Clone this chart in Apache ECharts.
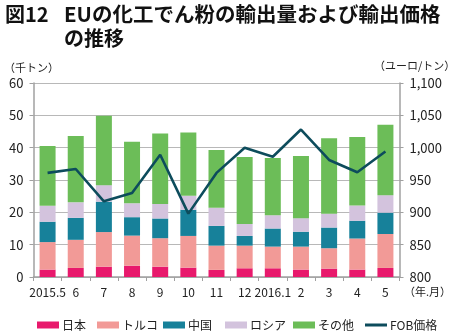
<!DOCTYPE html>
<html><head><meta charset="utf-8">
<script src="https://cdn.jsdelivr.net/npm/echarts@6/dist/echarts.min.js"></script>
<style>html,body{margin:0;padding:0;background:#fff}#c{width:449px;height:333px}</style>
</head><body><div id="c"></div>
<script>
const categories = ['2015.5','6','7','8','9','10','11','12','2016.1','2','3','4','5'];
const japan  = [2.3,2.8,3.2,3.5,3.2,2.9,2.2,2.7,2.7,2.3,2.6,2.3,2.8];
const turkey = [8.5,8.7,10.7,9.3,8.8,9.8,7.5,7.0,6.7,7.1,6.3,9.6,10.5];
const china  = [6.3,6.8,9.4,5.7,6.1,8.1,6.1,3.0,5.6,4.6,6.4,5.5,6.6];
const russia = [4.9,4.8,5.1,4.3,4.5,4.3,5.6,3.7,4.1,4.2,4.3,4.7,5.4];
const others = [18.5,20.5,21.5,19.0,21.8,19.6,17.9,20.7,17.7,19.2,23.3,21.2,21.8];
const fob    = [961,967,917,930,989,898,961,1000,986,1028,981,962,994];
const leftTicks = [0,10,20,30,40,50,60];
const rightTicks = [800,850,900,950,1000,1050,1100];

const FONT = '"Noto Sans CJK JP", "Noto Sans", sans-serif';
const colors = {japan:'#e8196c', turkey:'#f29a97', china:'#17819a', russia:'#d3c3dd', others:'#6cbd58', fob:'#0d4c5c'};

function bar(name, data, color){
  return {name, type:'bar', stack:'t', data, barWidth:16, itemStyle:{color}, emphasis:{disabled:true}};
}
function lg(name, left, extra){
  return Object.assign({data:[name], left, top:314, itemWidth:22, itemHeight:7, icon:'rect', itemGap:0,
    textStyle:{fontFamily:FONT, fontSize:12, color:'#222', padding:[0,0,0,-2]}}, extra||{});
}
const chart = echarts.init(document.getElementById('c'), null, {renderer:'canvas'});
chart.setOption({
  animation:false,
  grid:{left:33.5, right:49.5, top:83, bottom:56, containLabel:false},
  graphic:[
    {type:'text', left:5, top:4, style:{text:'図12', font:'bold 20px '+FONT, fill:'#111'}},
    {type:'text', left:64, top:4, style:{text:'EUの化工でん粉の輸出量および輸出価格', font:'bold 20.5px '+FONT, fill:'#111'}},
    {type:'text', left:64, top:28, style:{text:'の推移', font:'bold 20px '+FONT, fill:'#111'}},
    {type:'text', left:4, top:62, style:{text:'（千トン）', font:'11px '+FONT, fill:'#222'}},
    {type:'text', left:374, top:60, style:{text:'（ユーロ/トン）', font:'11px '+FONT, fill:'#222'}},
    {type:'text', left:404, top:286, style:{text:'（年.月）', font:'11px '+FONT, fill:'#222'}}
  ],
  legend:[
    lg('日本', 32),
    lg('トルコ', 92),
    lg('中国', 158),
    lg('ロシア', 220),
    lg('その他', 288),
    lg('FOB価格', 360, {itemHeight:3, itemStyle:{color:colors.fob}})
  ],
  xAxis:{type:'category', data:categories,
    axisLine:{lineStyle:{color:'#a0a0a0', width:1.5}},
    axisTick:{show:true, alignWithLabel:false, length:4, lineStyle:{color:'#a0a0a0'}},
    axisLabel:{fontFamily:FONT, fontSize:12, color:'#222', margin:9, interval:0}},
  yAxis:[
    {type:'value', min:0, max:60, interval:10,
      axisLine:{show:true, lineStyle:{color:'#a0a0a0', width:1.5}},
      axisTick:{show:true, length:4, lineStyle:{color:'#a0a0a0'}},
      splitLine:{lineStyle:{color:'#b8b8b8', width:1}},
      axisLabel:{fontFamily:FONT, fontSize:13, color:'#222', margin:10,
        formatter:v=>leftTicks.includes(v)?String(v):''}},
    {type:'value', min:800, max:1100, interval:50, position:'right',
      axisLine:{show:true, lineStyle:{color:'#a0a0a0', width:1.5}},
      axisTick:{show:true, length:4, lineStyle:{color:'#a0a0a0'}},
      splitLine:{show:false},
      axisLabel:{fontFamily:FONT, fontSize:13, color:'#222', margin:10,
        formatter:v=>rightTicks.includes(v)?v.toLocaleString('en-US'):''}}
  ],
  series:[
    bar('日本', japan, colors.japan),
    bar('トルコ', turkey, colors.turkey),
    bar('中国', china, colors.china),
    bar('ロシア', russia, colors.russia),
    bar('その他', others, colors.others),
    {name:'FOB価格', type:'line', yAxisIndex:1, data:fob, symbol:'none',
      lineStyle:{color:colors.fob, width:2.6}, itemStyle:{color:colors.fob}, z:5}
  ]
});
</script></body></html>
